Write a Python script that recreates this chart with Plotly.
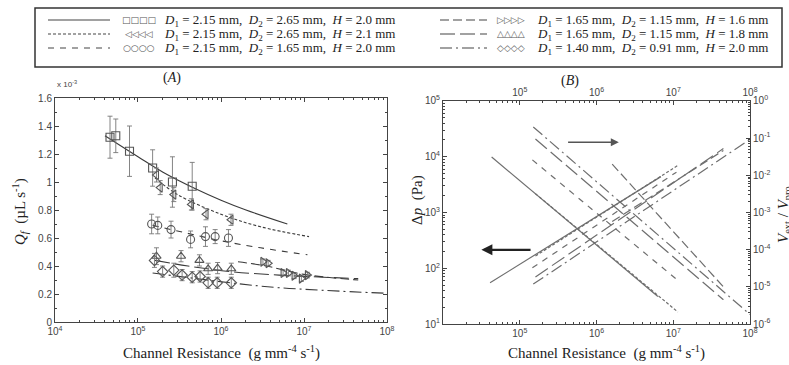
import plotly.graph_objects as go

# ---------------- data ----------------
# Panel A : measured flow rate Q_f (x 1e-3 uL/s) vs channel resistance (g mm^-4 s^-1)
R_sq = [4.6e4, 5.4e4, 7.9e4, 1.5e5, 2.6e5, 4.5e5]
Q_sq = [1.32, 1.33, 1.22, 1.10, 1.00, 0.97]
E_sq = [0.15, 0.12, 0.18, 0.13, 0.18, 0.17]

R_lt = [1.67e5, 1.85e5, 2.7e5, 4.4e5, 6.6e5, 1.32e6]
Q_lt = [1.05, 0.96, 0.91, 0.84, 0.77, 0.73]
E_lt = [0.05, 0.05, 0.05, 0.04, 0.04, 0.04]

R_ci = [1.46e5, 1.73e5, 2.5e5, 4.3e5, 6.5e5, 8.5e5, 1.23e6]
Q_ci = [0.70, 0.69, 0.66, 0.59, 0.61, 0.61, 0.60]
E_ci = [0.07, 0.06, 0.06, 0.06, 0.07, 0.05, 0.06]

R_rt = [3.2e6, 3.7e6, 5.6e6, 6.5e6, 7.6e6, 9.3e6, 1.1e7]
Q_rt = [0.43, 0.42, 0.35, 0.35, 0.33, 0.31, 0.335]
E_rt = [0.02, 0.02, 0.02, 0.02, 0.02, 0.02, 0.02]

R_ut = [1.67e5, 3.3e5, 5.5e5, 7.0e5, 9.1e5, 1.33e6]
Q_ut = [0.47, 0.47, 0.44, 0.38, 0.385, 0.38]
E_ut = [0.06, 0.04, 0.04, 0.04, 0.04, 0.04]

R_di = [1.58e5, 1.98e5, 2.7e5, 3.4e5, 4.5e5, 5.6e5, 7.0e5, 9.0e5, 1.33e6]
Q_di = [0.44, 0.36, 0.37, 0.335, 0.32, 0.325, 0.28, 0.28, 0.28]
E_di = [0.05, 0.04, 0.05, 0.04, 0.04, 0.04, 0.04, 0.04, 0.04]

# model curves in panel A
F_sq_R = [4e4, 1e5, 2e5, 5e5, 1e6, 2e6, 6.3e6]
F_sq_Q = [1.33, 1.18, 1.07, 0.95, 0.87, 0.80, 0.70]
F_lt_R = [1.6e5, 3e5, 1e6, 3e6, 1.15e7]
F_lt_Q = [1.03, 0.91, 0.77, 0.68, 0.61]
F_ci_R = [1.5e5, 5e5, 1e6, 3e6, 1.1e7]
F_ci_Q = [0.69, 0.62, 0.58, 0.53, 0.48]
F_rt_R = [1.6e6, 3.5e6, 1e7, 4.5e7]
F_rt_Q = [0.43, 0.40, 0.34, 0.30]
F_ut_R = [1.6e5, 4e5, 1.3e6, 5e6, 4.5e7]
F_ut_Q = [0.44, 0.40, 0.36, 0.335, 0.31]
F_di_R = [1.5e5, 5e5, 1.3e6, 5e6, 1e8]
F_di_Q = [0.35, 0.31, 0.28, 0.245, 0.205]

# Panel B : pressure drop (Pa, left axis) and volume ratio (right axis)
DP_sq_R = [4.1e4, 6.9e6];  DP_sq = [55, 4400]
DP_lt_R = [1.6e5, 1.15e7]; DP_lt = [166, 7000]
DP_ci_R = [1.46e5, 1.1e7]; DP_ci = [102, 5300]
DP_rt_R = [1.6e6, 4.5e7];  DP_rt = [690, 13000]
DP_ut_R = [1.6e5, 4.5e7];  DP_ut = [70, 14000]
DP_di_R = [1.5e5, 1e8];    DP_di = [52, 20500]

VR_sq_R = [4.3e4, 6.3e6];  VR_sq = [3.1e-2, 5.5e-6]
VR_lt_R = [1.6e5, 1.15e7]; VR_lt = [3.2e-3, 2.1e-6]
VR_ci_R = [1.46e5, 1.1e7]; VR_ci = [2.6e-2, 1.6e-5]
VR_rt_R = [1.6e6, 4.5e7];  VR_rt = [2.0e-2, 1.0e-5]
VR_ut_R = [1.6e5, 4.5e7];  VR_ut = [9.5e-2, 4.5e-6]
VR_di_R = [1.5e5, 1e8];    VR_di = [2.0e-1, 1.8e-6]

legend_text = [
    "<i>D</i><sub>1</sub> = 2.15 mm,  <i>D</i><sub>2</sub> = 2.65 mm,  <i>H</i> = 2.0 mm",
    "<i>D</i><sub>1</sub> = 2.15 mm,  <i>D</i><sub>2</sub> = 2.65 mm,  <i>H</i> = 2.1 mm",
    "<i>D</i><sub>1</sub> = 2.15 mm,  <i>D</i><sub>2</sub> = 1.65 mm,  <i>H</i> = 2.0 mm",
    "<i>D</i><sub>1</sub> = 1.65 mm,  <i>D</i><sub>2</sub> = 1.15 mm,  <i>H</i> = 1.6 mm",
    "<i>D</i><sub>1</sub> = 1.65 mm,  <i>D</i><sub>2</sub> = 1.15 mm,  <i>H</i> = 1.8 mm",
    "<i>D</i><sub>1</sub> = 1.40 mm,  <i>D</i><sub>2</sub> = 0.91 mm,  <i>H</i> = 2.0 mm",
]
legend_marks = ["□□□□", "◁◁◁◁", "○○○○", "▷▷▷▷", "△△△△", "◇◇◇◇"]

# ---------------- styles ----------------
DASH = ["solid", "3px,2px", "6px,6px", "9px,4px", "15px,5px", "12px,4px,2px,4px"]
SYM = ["square-open", "triangle-left-open", "circle-open", "triangle-right-open",
       "triangle-up-open", "diamond-open"]
LC = "#3a3a3a"
BC = "#6e6e6e"
SERIF = "Liberation Serif"
SANS = "Liberation Sans"

fig = go.Figure()

meas = [(R_sq, Q_sq, E_sq), (R_lt, Q_lt, E_lt), (R_ci, Q_ci, E_ci),
        (R_rt, Q_rt, E_rt), (R_ut, Q_ut, E_ut), (R_di, Q_di, E_di)]
fits = [(F_sq_R, F_sq_Q), (F_lt_R, F_lt_Q), (F_ci_R, F_ci_Q),
        (F_rt_R, F_rt_Q), (F_ut_R, F_ut_Q), (F_di_R, F_di_Q)]
dps = [(DP_sq_R, DP_sq), (DP_lt_R, DP_lt), (DP_ci_R, DP_ci),
       (DP_rt_R, DP_rt), (DP_ut_R, DP_ut), (DP_di_R, DP_di)]
vrs = [(VR_sq_R, VR_sq), (VR_lt_R, VR_lt), (VR_ci_R, VR_ci),
       (VR_rt_R, VR_rt), (VR_ut_R, VR_ut), (VR_di_R, VR_di)]

for i in range(6):
    fx, fy = fits[i]
    fig.add_trace(go.Scatter(x=fx, y=fy, mode="lines", xaxis="x", yaxis="y",
                             line=dict(color=LC, width=1.1, dash=DASH[i], shape="spline"),
                             showlegend=False, hoverinfo="skip"))
for i in range(6):
    mx, my, me = meas[i]
    fig.add_trace(go.Scatter(x=mx, y=my, mode="markers", xaxis="x", yaxis="y",
                             marker=dict(symbol=SYM[i], size=8, color="#555",
                                         line=dict(width=1.1, color="#555")),
                             error_y=dict(type="data", array=me, color="#777",
                                          thickness=0.9, width=2.5),
                             showlegend=False))
for i in range(6):
    dx, dy = dps[i]
    fig.add_trace(go.Scatter(x=dx, y=dy, mode="lines", xaxis="x2", yaxis="y2",
                             line=dict(color=BC, width=1.2, dash=DASH[i]),
                             showlegend=False))
    vx, vy = vrs[i]
    fig.add_trace(go.Scatter(x=vx, y=vy, mode="lines", xaxis="x3", yaxis="y3",
                             line=dict(color=BC, width=1.2, dash=DASH[i]),
                             showlegend=False))

def sup(e):
    return "10<sup>%d</sup>" % e

tickfont = dict(family=SANS, size=10, color="#444")
common = dict(showline=True, linecolor="#444", linewidth=1, ticks="inside",
              tickcolor="#444", ticklen=4, showgrid=False, zeroline=False,
              tickfont=tickfont, automargin=False)

fig.update_layout(
    width=789, height=365, margin=dict(l=0, r=0, t=0, b=0, autoexpand=False),
    paper_bgcolor="white", plot_bgcolor="white", showlegend=False,
    xaxis=dict(type="log", range=[4, 8], domain=[0.0697, 0.4905], anchor="y",
               tickvals=[1e4, 1e5, 1e6, 1e7, 1e8], ticktext=[sup(e) for e in range(4, 9)],
               mirror="allticks", minor=dict(ticks="inside", ticklen=2, dtick="D1",
                                             tickcolor="#444"), **common),
    yaxis=dict(range=[0, 1.6], domain=[0.1178, 0.7315], anchor="x",
               tickvals=[0, 0.2, 0.4, 0.6, 0.8, 1.0, 1.2, 1.4, 1.6],
               ticktext=["0", "0.2", "0.4", "0.6", "0.8", "1", "1.2", "1.4", "1.6"],
               mirror="allticks", minor=dict(ticks="inside", ticklen=2, dtick=0.1,
                                             tickcolor="#444"), **common),
    xaxis2=dict(type="log", range=[4, 8], domain=[0.5615, 0.9506], anchor="y2",
                tickvals=[1e5, 1e6, 1e7, 1e8], ticktext=[sup(e) for e in range(5, 9)],
                minor=dict(ticks="inside", ticklen=2, dtick="D1", tickcolor="#444"),
                **common),
    xaxis3=dict(type="log", range=[4, 8], overlaying="x2", side="top", anchor="y2",
                tickvals=[1e5, 1e6, 1e7, 1e8], ticktext=[sup(e) for e in range(5, 9)],
                minor=dict(ticks="inside", ticklen=2, dtick="D1", tickcolor="#444"),
                **common),
    yaxis2=dict(type="log", range=[1, 5], domain=[0.1123, 0.7233], anchor="x2",
                tickvals=[1e1, 1e2, 1e3, 1e4, 1e5], ticktext=[sup(e) for e in range(1, 6)],
                minor=dict(ticks="inside", ticklen=2, dtick="D1", tickcolor="#444"),
                **common),
    yaxis3=dict(type="log", range=[-6, 0], overlaying="y2", side="right", anchor="x2",
                tickvals=[1e-6, 1e-5, 1e-4, 1e-3, 1e-2, 1e-1, 1],
                ticktext=[sup(e) for e in range(-6, 1)],
                minor=dict(ticks="inside", ticklen=2, dtick="D1", tickcolor="#444"),
                **common),
)

# arrows in panel B
fig.add_annotation(x=6.29, y=4.26, ax=5.61, ay=4.26, xref="x2", yref="y2",
                   axref="x2", ayref="y2", showarrow=True, arrowhead=2,
                   arrowsize=1, arrowwidth=1.6, arrowcolor="#555", text="")
fig.add_annotation(x=4.50, y=2.33, ax=5.16, ay=2.33, xref="x2", yref="y2",
                   axref="x2", ayref="y2", showarrow=True, arrowhead=2,
                   arrowsize=1, arrowwidth=2.2, arrowcolor="#222", text="")

ttl = dict(family=SERIF, size=15, color="#222")
W, H = 789.0, 365.0
def px(x, y):
    return x / W, 1 - y / H

def note(x, y, text, font, xanchor="center", **kw):
    xp, yp = px(x, y)
    fig.add_annotation(x=xp, y=yp, xref="paper", yref="paper", text=text,
                       showarrow=False, font=font, xanchor=xanchor,
                       yanchor="middle", **kw)

note(221, 352, "Channel Resistance  (g mm<sup>-4</sup> s<sup>-1</sup>)", ttl)
note(606, 352, "Channel Resistance  (g mm<sup>-4</sup> s<sup>-1</sup>)", ttl)
note(20, 212, "<i>Q<sub>f</sub></i>  (µL s<sup>-1</sup>)", ttl, textangle=-90)
note(417, 200, "Δ<i>p</i>  (Pa)", ttl, textangle=-90)
note(784, 215, "<i>V</i><sub>ext</sub> / <i>V</i><sub>pro</sub>", ttl, textangle=-90)
note(172, 78, "(<i>A</i>)", dict(family=SERIF, size=14, color="#222"))
note(570, 81, "(<i>B</i>)", dict(family=SERIF, size=14, color="#222"))
note(67, 84, "x 10<sup>-3</sup>", dict(family=SANS, size=8, color="#444"))

# legend box
x0, y1 = px(35, 8)
x1, y0 = px(782, 67)
fig.add_shape(type="rect", xref="paper", yref="paper", x0=x0, y0=y0, x1=x1, y1=y1,
              line=dict(color="#333", width=1.5), fillcolor="white")
rows = [20, 34, 48]
cols = [(48, 110, 139, 162), (440, 487, 511, 535)]
for k in range(6):
    c = cols[k // 3]
    r = rows[k % 3]
    a, yy = px(c[0], r)
    b, _ = px(c[1], r)
    fig.add_shape(type="line", xref="paper", yref="paper", x0=a, x1=b, y0=yy, y1=yy,
                  line=dict(color="#444", width=1.1, dash=DASH[k]))
    note(c[2], r, legend_marks[k], dict(family="DejaVu Sans", size=9, color="#555"))
    note(c[3], r, legend_text[k], dict(family=SERIF, size=13, color="#222"),
         xanchor="left")

fig.write_html("out.html", config={"displayModeBar": False},
               post_script="document.body.style.margin='0px';document.body.style.overflow='hidden';")
